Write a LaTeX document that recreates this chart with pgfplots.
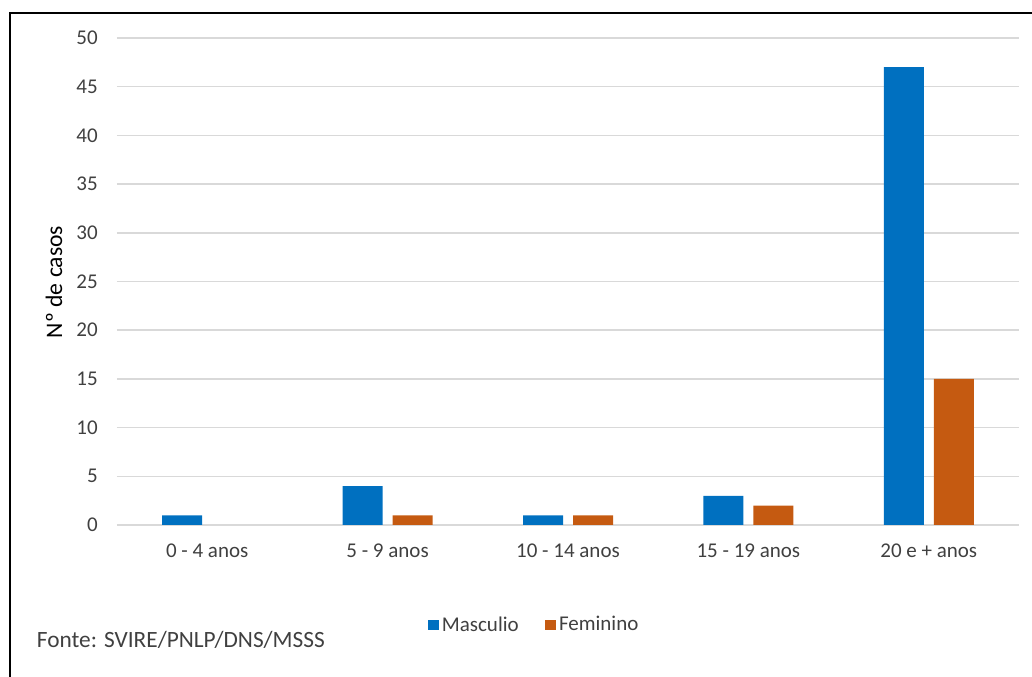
\documentclass[border=0pt]{standalone}
\usepackage{pgfplots}
\pgfplotsset{compat=1.18}
\usepackage{fontspec}
\setmainfont{Carlito}
\definecolor{masc}{HTML}{0070C0}
\definecolor{fem}{HTML}{C55A11}
\definecolor{gridgray}{HTML}{D9D9D9}
\definecolor{txtgray}{HTML}{404040}

\begin{document}
\begin{tikzpicture}[x=1pt,y=1pt]
\useasboundingbox (0,0) rectangle (619.2,406.2);
\draw[line width=1.4pt] (6,0) -- (6,398.4) -- (619.2,398.4);

\begin{axis}[
    at={(70.2pt,91.2pt)}, anchor=south west,
    scale only axis,
    width=541.2pt, height=292.2pt,
    font=\fontsize{12.6}{15}\selectfont,
    /pgf/number format/assume math mode=true,
    ybar=6pt, bar width=24pt,
    xmin=-0.5, xmax=4.5,
    ymin=0, ymax=50,
    ytick={0,5,...,50},
    xtick={0,1,2,3,4},
    xticklabels={0 - 4 anos, 5 - 9 anos, 10 - 14 anos, 15 - 19 anos, 20 e + anos},
    axis line style={draw=none},
    major tick length=0pt,
    ymajorgrids, grid style={gridgray, line width=0.9pt},
    ticklabel style={text=txtgray},
    yticklabel style={xshift=-8pt},
    xticklabel style={yshift=-8pt},
    legend columns=2,
    legend style={at={(0.4634,-0.2053)}, anchor=center, draw=none, fill=none,
      text=txtgray, /tikz/every even column/.append style={column sep=14pt}},
    legend image code/.code={\fill[#1] (0pt,-3.1pt) rectangle (6.2pt,3.1pt);},
]
\addplot[fill=masc, draw=none] coordinates {(0,1) (1,4) (2,1) (3,3) (4,47)};
\addlegendentry{Masculio}
\addplot[fill=fem, draw=none] coordinates {(1,1) (2,1) (3,2) (4,15)};
\addlegendentry{Feminino}
\end{axis}

\node[rotate=90, font=\fontsize{14.2}{16}\selectfont] at (32.4,237) {Nº de casos};
\node[anchor=west, text=txtgray, font=\fontsize{14}{16}\selectfont] at (18.6,22.2) {Fonte: SVIRE/PNLP/DNS/MSSS};
\end{tikzpicture}
\end{document}
